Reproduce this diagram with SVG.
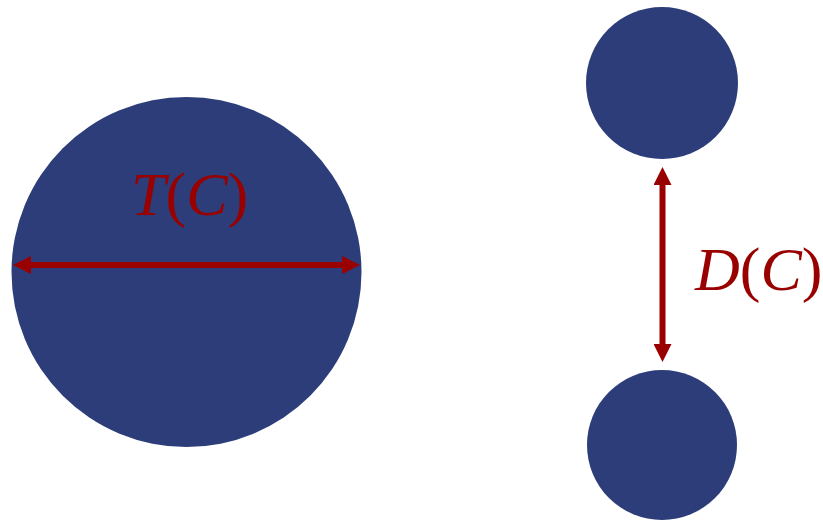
<svg xmlns="http://www.w3.org/2000/svg" width="823" height="521" viewBox="0 0 823 521">
  <style>
    .disk { fill: #2c3d7a; }
    .arrow { stroke: #990000; stroke-width: 6; fill: none; }
    .lbl { font-family: "Liberation Serif", "Times New Roman", serif; font-size: 62px; fill: #990000; }
    .it { font-style: italic; }
  </style>
  <defs>
    <marker id="head" markerUnits="userSpaceOnUse" viewBox="0 0 18 18" refX="6" refY="9" markerWidth="18" markerHeight="18" orient="auto-start-reverse">
      <path d="M0,0 L18,9 L0,18 z" fill="#990000"/>
    </marker>
  </defs>
  <rect width="823" height="521" fill="#ffffff"/>
  <g id="big-circle">
    <circle class="disk" cx="186.5" cy="272" r="175"/>
  </g>
  <g id="top-circle">
    <circle class="disk" cx="662" cy="83" r="76"/>
  </g>
  <g id="bottom-circle">
    <circle class="disk" cx="662" cy="445" r="75"/>
  </g>
  <g id="connectors">
    <line class="arrow" x1="25" y1="265" x2="348" y2="265" marker-start="url(#head)" marker-end="url(#head)"/>
    <line class="arrow" x1="662.5" y1="179" x2="662.5" y2="350" marker-start="url(#head)" marker-end="url(#head)"/>
  </g>
  <g id="label-T">
    <text class="lbl" x="131" y="215"><tspan class="it">T</tspan>(<tspan class="it">C</tspan>)</text>
  </g>
  <g id="label-D">
    <text class="lbl" x="695" y="290"><tspan class="it">D</tspan>(<tspan class="it">C</tspan>)</text>
  </g>
</svg>
